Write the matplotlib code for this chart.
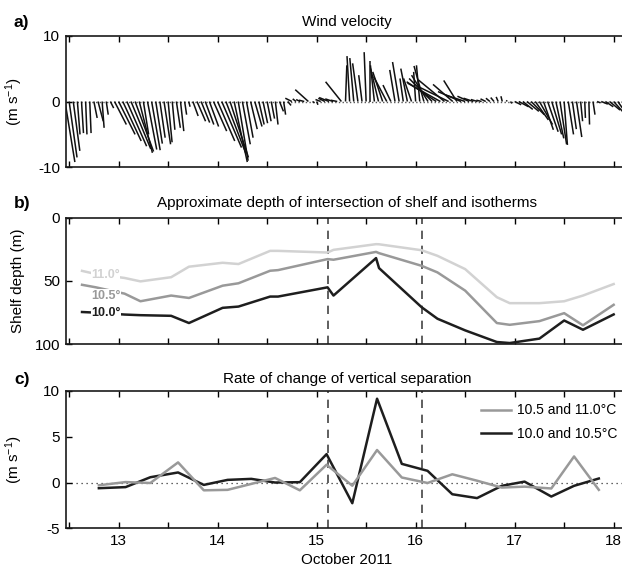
import numpy as np
import matplotlib.pyplot as plt
from matplotlib.collections import LineCollection

plt.rcParams['font.family'] = ['Liberation Sans', 'DejaVu Sans']
plt.rcParams['mathtext.fontset'] = 'custom'
plt.rcParams['mathtext.rm'] = 'Liberation Sans'
plt.rcParams['mathtext.it'] = 'Liberation Sans:italic'
plt.rcParams['axes.unicode_minus'] = False

# hourly wind sticks (m/s), starting 12 Oct 2011 ~11:00
wind_t0 = 12.458
wind_v = [-9.2, -8.5, -7.5, -5.0, -4.8, -5.0, -4.8, -2.5, -3.0, -4.0, -2.0, -1.0,
          -3.5, -5.0, -6.0, -6.8, -7.2, -7.6, -7.8, -5.0, -7.3, -7.4, -6.4, -5.5,
          -6.5, -6.2, -4.3, -4.0, -4.5, -2.0, -0.8, -2.2, -3.0, -3.2, -3.5, -3.8,
          -4.5, -6.0, -7.0, -7.8, -8.5, -9.2, -9.0, -6.5, -5.5, -4.2, -3.8, -3.5,
          -3.3, -3.0, -2.6, -3.5, -1.5, -2.0, -0.6, 0.5, 0.4, 0.3, 0.2, 1.8,
          -0.2, -0.5, 0.3, 0.5, 0.6, 0.4, 0.2, 3.0, 5.5, 6.9, 6.6, 5.8,
          4.0, 7.5, 6.2, 5.5, 5.0, 4.5, 3.8, 2.5, 4.8, 6.0, 3.5, 5.0,
          3.5, 4.5, 5.5, 5.4, 4.0, 3.5, 3.0, 2.8, 3.3, 2.2, 2.6, 3.2,
          1.5, 1.0, 0.8, 0.5, 0.3, 0.2, 0.4, 0.5, 0.6, 0.7, 0.8, 0.2,
          -0.3, -0.5, -0.8, -1.2, -1.5, -2.0, -2.8, -3.5, -4.3, -4.6, -5.0, -5.6,
          -6.5, -6.6, -5.0, -4.2, -5.4, -3.0, -2.5, -3.5, -2.0, -0.2, -0.4, -0.8,
          -1.3, -2.0, -2.8, -3.2]
wind_u = [1.5, 1.2, 1.0, 0.4, 0.3, 0.2, 0.2, 0.5, 0.8, 0.3, 0.3, 0.5,
          1.8, 2.5, 2.8, 3.0, 3.0, 2.8, 2.0, 0.8, 1.4, 1.3, 1.0, 0.8,
          1.0, 0.6, 0.4, 0.6, 0.5, 0.3, 0.2, 0.8, 1.3, 1.3, 1.3, 1.4,
          2.0, 2.6, 3.0, 3.0, 2.8, 2.0, 1.5, 1.2, 1.0, 1.0, 1.1, 0.8,
          0.7, 0.6, 0.5, 0.4, 0.6, 0.3, 0.5, -1.0, -0.5, -0.6, -0.8, -2.0,
          0.3, 0.2, -0.8, -1.0, -1.5, -1.2, -1.0, -2.4, 0.2, -0.4, -0.6, -0.8,
          -0.5, -0.3, 0.0, -0.6, -1.2, -1.5, -2.0, -1.2, -0.8, -1.0, -0.5, -1.0,
          -1.2, -0.3, -0.5, -1.5, -2.5, -3.5, -4.5, -5.0, -4.0, -4.5, -3.0, -2.0,
          -3.5, -3.0, -1.8, -1.5, -1.0, -0.8, -0.8, -0.6, -0.5, -0.3, -0.2, 0.1,
          0.2, 1.0, 1.5, 1.5, 1.8, 2.0, 2.0, 2.0, 1.5, 1.6, 1.5, 1.2,
          1.0, 0.5, 0.8, 0.6, 0.8, 0.3, 0.1, 0.1, 0.3, 0.5, 1.0, 1.2,
          1.6, 1.8, 2.0, 2.0]

# depth (m) where each isotherm meets the shelf
depth_t = [12.63, 12.77, 13.06, 13.22, 13.53, 13.71, 14.05, 14.21, 14.53, 14.61, 15.11, 15.17,
           15.60, 15.63, 16.06, 16.22, 16.50, 16.82, 16.95, 17.25, 17.50, 17.69, 18.00]
depth_110 = [42, 44.5, 47.6, 50.3, 47, 38.7, 35.6, 36.6, 26.2, 26.2, 27.5, 25.4,
             20.9, 21.0, 25.7, 30.1, 40.6, 62.8, 67.5, 67.5, 66, 61.5, 52.4]
depth_105 = [53, 55, 60, 66, 61.5, 63.4, 53.7, 51.8, 41.9, 41.4, 32.7, 33.2,
             27, 28, 38, 43.2, 57.6, 83.2, 84.6, 81.7, 75.4, 85, 68.8]
depth_100 = [74.5, 75, 76.5, 77, 77.5, 83.2, 71.2, 70.2, 62.3, 62.3, 55, 61.5,
             31.9, 39.8, 70.7, 79.8, 89, 98.2, 99, 95.5, 81.2, 88.5, 76.4]

# rate of change of vertical separation (m/s)
rate_t = [12.80, 13.07, 13.32, 13.60, 13.86, 14.10, 14.34, 14.58, 14.83, 15.10, 15.36,
          15.61, 15.86, 16.12, 16.37, 16.62, 16.87, 17.10, 17.37, 17.60, 17.85]
rate_105_110 = [-0.3, 0.05, -0.05, 2.2, -0.85, -0.8, -0.15, 0.5, -0.85, 1.95, -0.35,
                3.55, 0.55, -0.05, 0.9, 0.2, -0.55, -0.45, -0.65, 2.85, -0.8]
rate_100_105 = [-0.62, -0.5, 0.58, 1.1, -0.26, 0.29, 0.4, 0.0, 0.04, 3.1, -2.26,
                9.16, 2.04, 1.28, -1.28, -1.7, -0.36, 0.1, -1.53, -0.36, 0.44]

event_days = [15.11, 16.06]
day_ticks = np.arange(12.5, 18.01, 0.5)
xlim = (12.465, 18.15)

W, H = 622, 571
fig = plt.figure(figsize=(W / 100, H / 100), dpi=100)
left = 65.7 / W
width = (xlim[1] - xlim[0]) * 99 / W


def add_axes(top_px, bottom_px):
    return fig.add_axes([left, 1 - bottom_px / H, width, (bottom_px - top_px) / H])


ax_a = add_axes(35.7, 167.3)
ax_b = add_axes(217.7, 344.3)
ax_c = add_axes(391.0, 528.3)

for ax in (ax_a, ax_b, ax_c):
    ax.set_xlim(*xlim)
    ax.set_xticks(day_ticks)
    ax.set_xticklabels(['' for _ in day_ticks])
    ax.tick_params(direction='in', length=4, width=1, top=True, labelsize=11, pad=4)
    ax.spines['right'].set_visible(False)
    for s in ('left', 'bottom', 'top'):
        ax.spines[s].set_linewidth(1.2)
        ax.spines[s].set_color('#1a1a1a')

# a) wind sticks
ax_a.set_ylim(-10, 10)
ax_a.set_yticks([-10, 0, 10])
wt = wind_t0 + np.arange(len(wind_v)) / 24.0
# keep sticks isotropic: one m/s spans the same pixels along x and y
ax_h = (167.3 - 35.7)
px_per_ms = ax_h / 20.0
days_per_ms = px_per_ms / 99.0
segs = [[(t, 0), (t + u * days_per_ms, v)] for t, u, v in zip(wt, wind_u, wind_v)]
ax_a.axhline(0, color='0.35', lw=1.0, ls=':', zorder=1)
ax_a.add_collection(LineCollection(segs, colors='#111111', linewidths=1.1, zorder=2))
ax_a.set_ylabel('(m s$^{-1}$)', fontsize=11)
ax_a.yaxis.set_label_coords(-0.073, 0.5)
ax_a.set_title('Wind velocity', fontsize=11, pad=7)

# b) isotherm depths
ax_b.set_ylim(100, 0)
ax_b.set_yticks([0, 50, 100])
for d in event_days:
    ax_b.axvline(d, color='#444444', lw=1.2, ls=(0, (5, 4)), zorder=1)
ax_b.plot(depth_t, depth_110, color='#d2d2d2', lw=1.8, zorder=2)
ax_b.plot(depth_t, depth_105, color='#999999', lw=1.8, zorder=3)
ax_b.plot(depth_t, depth_100, color='#1e1e1e', lw=1.8, zorder=4)
for y, txt, col in ((45.5, '11.0°', '#d2d2d2'), (61.5, '10.5°', '#999999'), (75.5, '10.0°', '#1e1e1e')):
    ax_b.text(12.87, y, txt, color=col, fontsize=9, fontweight='bold', ha='center', va='center',
              zorder=5, bbox=dict(facecolor='white', edgecolor='none', pad=0.3))
ax_b.set_ylabel('Shelf depth (m)', fontsize=11)
ax_b.yaxis.set_label_coords(-0.073, 0.5)
ax_b.set_title('Approximate depth of intersection of shelf and isotherms', fontsize=11, pad=8)

# c) rate of change
ax_c.set_ylim(-5, 10)
ax_c.set_yticks([-5, 0, 5, 10])
ax_c.axhline(0, color='#333333', lw=0.9, ls=(0, (1, 3)), zorder=1)
for d in event_days:
    ax_c.axvline(d, color='#444444', lw=1.2, ls=(0, (5, 4)), zorder=1)
ax_c.plot(rate_t, rate_105_110, color='#999999', lw=1.8, label='10.5 and 11.0°C', zorder=3)
ax_c.plot(rate_t, rate_100_105, color='#1e1e1e', lw=1.8, label='10.0 and 10.5°C', zorder=2)
ax_c.legend(loc='upper right', bbox_to_anchor=(0.99, 0.95), frameon=False, fontsize=10,
            handlelength=2.2, handletextpad=0.4, labelspacing=0.7, borderaxespad=0)
ax_c.set_xticklabels([f'{d:g}' if d == int(d) else '' for d in day_ticks])
ax_c.set_xlabel('October 2011', fontsize=11, labelpad=4)
ax_c.set_ylabel('(m s$^{-1}$)', fontsize=11)
ax_c.yaxis.set_label_coords(-0.073, 0.5)
ax_c.set_title('Rate of change of vertical separation', fontsize=11, pad=6)

for ax, lab in ((ax_a, 'a)'), (ax_b, 'b)'), (ax_c, 'c)')):
    ax.text(14 / W, 0, lab, transform=fig.transFigure, fontsize=12.5, fontweight='bold',
            va='baseline', ha='left')

# place panel letters on the same baseline as each title
fig.canvas.draw()
for ax in (ax_a, ax_b, ax_c):
    ty = ax.title.get_window_extent().y0 + 2
    ax.texts[-1].set_position((14 / W, ty / H))

fig.savefig('out.png', dpi=100)
